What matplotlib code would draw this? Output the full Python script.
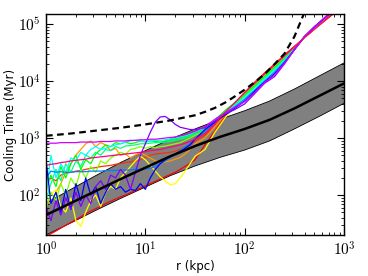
import numpy as np
import matplotlib
matplotlib.use('Agg')
import matplotlib.pyplot as plt
from matplotlib.ticker import FuncFormatter

plt.rcParams['mathtext.fontset'] = 'cm'

# radius grid (kpc) shared by the coloured profiles
r_kpc = [1.00, 1.12, 1.26, 1.41, 1.58, 1.78, 2.00, 2.24, 2.51, 2.82,
         3.16, 3.55, 3.98, 4.47, 5.01, 5.62, 6.31, 7.08, 7.94, 8.91,
         10.0, 11.2, 12.6, 14.1, 15.8, 17.8, 20.0, 22.4, 25.1, 28.2,
         31.6, 39.8, 50.1, 63.1, 79.4, 100, 126, 158, 200, 251,
         316, 398, 501, 631, 794]

# log10 of cooling time (Myr) for each simulated profile
log_t_red = [1.28, 1.32, 1.37, 1.42, 1.47, 1.52, 1.57, 1.62, 1.67, 1.72,
             1.76, 1.80, 1.85, 1.89, 1.93, 1.97, 2.00, 2.04, 2.08, 2.12,
             2.16, 2.20, 2.24, 2.28, 2.32, 2.36, 2.40, 2.45, 2.50, 2.56,
             2.62, 2.88, 3.12, 3.38, 3.60, 3.80, 3.98, 4.14, 4.30, 4.46,
             4.61, 4.76, 4.91, 5.05, 5.19]
log_t_red2 = [2.20, 2.30, 2.25, 2.35, 2.38, 2.40, 2.42, 2.43, 2.45, 2.47,
              2.48, 2.50, 2.51, 2.52, 2.54, 2.55, 2.57, 2.58, 2.60, 2.62,
              2.66, 2.70, 2.72, 2.73, 2.74, 2.75, 2.77, 2.80, 2.83, 2.88,
              2.95, 3.05, 3.22, 3.42, 3.62, 3.80, 3.97, 4.13, 4.29, 4.45,
              4.60, 4.76, 4.91, 5.06, 5.21]
log_t_orange = [1.90, 1.85, 2.05, 2.20, 2.40, 2.55, 2.70, 2.80, 2.90, 2.95,
                2.85, 2.92, 2.88, 2.78, 2.82, 2.70, 2.72, 2.65, 2.70, 2.74,
                2.70, 2.65, 2.60, 2.58, 2.58, 2.60, 2.63, 2.66, 2.72, 2.80,
                2.90, 3.00, 3.20, 3.40, 3.58, 3.76, 3.94, 4.10, 4.26, 4.42,
                4.59, 4.76, 4.92, 5.07, 5.22]
log_t_yellow = [2.20, 2.00, 2.10, 1.80, 1.70, 1.95, 1.55, 1.45, 1.70, 1.90,
                2.00, 1.80, 2.05, 2.15, 2.10, 2.30, 2.40, 2.50, 2.60, 2.68,
                2.62, 2.52, 2.42, 2.32, 2.25, 2.18, 2.20, 2.30, 2.42, 2.55,
                2.68, 2.80, 3.10, 3.35, 3.56, 3.75, 3.92, 4.09, 4.25, 4.41,
                4.59, 4.76, 4.92, 5.08, 5.23]
log_t_lime = [1.75, 2.05, 1.90, 2.20, 2.00, 2.30, 2.15, 2.45, 2.30, 2.50,
              2.40, 2.60, 2.55, 2.65, 2.70, 2.75, 2.72, 2.80, 2.82, 2.85,
              2.82, 2.85, 2.83, 2.85, 2.86, 2.88, 2.90, 2.92, 2.96, 3.00,
              3.05, 3.12, 3.30, 3.47, 3.62, 3.77, 3.93, 4.08, 4.24, 4.40,
              4.58, 4.77, 4.93, 5.09, 5.25]
log_t_green = [2.10, 2.35, 2.15, 2.50, 2.30, 2.55, 2.70, 2.45, 2.62, 2.55,
               2.72, 2.80, 2.88, 2.85, 2.92, 2.90, 2.93, 2.90, 2.92, 2.95,
               2.93, 2.95, 2.94, 2.93, 2.95, 2.96, 2.98, 3.00, 3.02, 3.05,
               3.10, 3.15, 3.32, 3.48, 3.62, 3.76, 3.92, 4.08, 4.24, 4.40,
               4.58, 4.77, 4.94, 5.10, 5.27]
log_t_spring = [1.90, 2.20, 2.45, 2.25, 2.55, 2.40, 2.60, 2.50, 2.70, 2.65,
                2.75, 2.70, 2.80, 2.78, 2.85, 2.82, 2.86, 2.87, 2.88, 2.90,
                2.90, 2.91, 2.92, 2.92, 2.93, 2.94, 2.96, 2.98, 3.00, 3.03,
                3.07, 3.15, 3.30, 3.45, 3.59, 3.73, 3.89, 4.05, 4.21, 4.38,
                4.57, 4.77, 4.94, 5.10, 5.27]
log_t_cyan = [2.00, 2.70, 2.30, 2.55, 2.40, 2.65, 2.60, 2.75, 2.70, 2.80,
              2.85, 2.80, 2.82, 2.85, 2.88, 2.90, 2.93, 2.95, 2.96, 2.95,
              2.94, 2.95, 2.96, 2.96, 2.97, 2.98, 3.00, 3.02, 3.04, 3.07,
              3.11, 3.18, 3.30, 3.44, 3.57, 3.70, 3.86, 4.03, 4.19, 4.36,
              4.56, 4.77, 4.94, 5.10, 5.26]
log_t_azure = [2.30, 2.42, 2.40, 2.41, 2.40, 2.40, 2.41, 2.41, 2.41, 2.42,
               2.42, 2.42, 2.43, 2.43, 2.43, 2.44, 2.44, 2.44, 2.45, 2.45,
               2.46, 2.47, 2.50, 2.55, 2.60, 2.66, 2.72, 2.78, 2.84, 2.90,
               2.98, 3.12, 3.27, 3.42, 3.55, 3.68, 3.84, 4.00, 4.16, 4.34,
               4.55, 4.77, 4.94, 5.10, 5.26]
log_t_blue = [2.62, 1.85, 2.05, 1.70, 2.10, 1.75, 2.20, 1.90, 2.30, 2.00,
              2.15, 1.85, 2.05, 2.20, 2.10, 2.15, 2.05, 2.10, 2.08, 2.20,
              2.10, 2.30, 2.45, 2.55, 2.62, 2.68, 2.72, 2.76, 2.82, 2.88,
              2.98, 3.15, 3.28, 3.40, 3.52, 3.65, 3.82, 3.98, 4.13, 4.32,
              4.55, 4.78, 4.95, 5.10, 5.25]
log_t_violet = [1.80, 1.55, 1.90, 1.65, 1.95, 1.75, 2.05, 1.80, 2.00, 1.85,
                2.15, 2.25, 2.10, 2.35, 2.30, 2.45, 2.35, 2.10, 2.40, 2.70,
                2.90, 3.10, 3.28, 3.37, 3.38, 3.32, 3.24, 3.19, 3.17, 3.15,
                3.15, 3.18, 3.30, 3.42, 3.50, 3.60, 3.78, 3.96, 4.08, 4.30,
                4.55, 4.78, 4.95, 5.10, 5.25]
log_t_magenta = [2.91, 2.91, 2.91, 2.92, 2.92, 2.92, 2.92, 2.93, 2.93, 2.93,
                 2.93, 2.94, 2.94, 2.94, 2.95, 2.95, 2.95, 2.96, 2.96, 2.97,
                 2.97, 2.98, 2.98, 2.99, 3.00, 3.01, 3.02, 3.04, 3.06, 3.09,
                 3.12, 3.20, 3.33, 3.44, 3.54, 3.64, 3.80, 3.97, 4.11, 4.31,
                 4.55, 4.78, 4.95, 5.11, 5.27]
log_t_pink = [2.52, 2.54, 2.55, 2.57, 2.58, 2.60, 2.61, 2.62, 2.63, 2.65,
              2.66, 2.67, 2.68, 2.69, 2.70, 2.71, 2.72, 2.73, 2.74, 2.75,
              2.76, 2.78, 2.79, 2.80, 2.82, 2.84, 2.86, 2.88, 2.91, 2.94,
              2.98, 3.08, 3.25, 3.45, 3.62, 3.80, 3.96, 4.12, 4.28, 4.44,
              4.60, 4.76, 4.91, 5.06, 5.21]

profiles = [log_t_red, log_t_red2, log_t_orange, log_t_yellow, log_t_lime,
            log_t_green, log_t_spring, log_t_cyan, log_t_azure, log_t_blue,
            log_t_violet, log_t_magenta, log_t_pink]
colors = ['#ff0000', '#ff3000', '#ff9900', '#ffff00', '#80ff00',
          '#00ff00', '#00ff80', '#00ffff', '#0080ff', '#0000ff',
          '#8000ff', '#d000ff', '#ff0080']

# mean relation and its scatter
r_fit = [1, 1.78, 3.16, 5.62, 10, 17.8, 31.6, 56.2, 100, 178, 316, 562, 1000]
log_t_fit = [1.65, 1.86, 2.07, 2.28, 2.48, 2.68, 2.86, 3.02, 3.16, 3.32, 3.52, 3.74, 3.96]
log_t_fit_hi = [1.86, 2.10, 2.34, 2.57, 2.78, 2.98, 3.16, 3.33, 3.48, 3.65, 3.86, 4.09, 4.32]
log_t_fit_lo = [1.30, 1.51, 1.73, 1.94, 2.14, 2.34, 2.51, 2.66, 2.79, 2.95, 3.16, 3.38, 3.61]

# dashed reference curve
r_dash = [1, 1.78, 3.16, 5.62, 10, 17.8, 31.6, 39.8, 50.1, 63.1, 79.4,
          100, 126, 158, 200, 251, 316, 398, 447]
log_t_dash = [3.04, 3.08, 3.13, 3.18, 3.24, 3.31, 3.40, 3.46, 3.53, 3.62, 3.73,
              3.85, 3.98, 4.12, 4.30, 4.48, 4.78, 5.20, 5.40]

fig = plt.figure(figsize=(3.68, 2.76), dpi=100)
ax = fig.add_axes([0.125, 0.149, 0.81, 0.80])

ax.fill_between(r_fit, 10**np.array(log_t_fit_lo), 10**np.array(log_t_fit_hi),
                facecolor='#808080', edgecolor='none', zorder=1)
ax.plot(r_fit, 10**np.array(log_t_fit_hi), color='k', lw=0.6, zorder=1)
ax.plot(r_fit, 10**np.array(log_t_fit_lo), color='k', lw=0.6, zorder=1)

for prof, c in zip(profiles, colors):
    ax.plot(r_kpc, 10**np.array(prof), color=c, lw=0.9, zorder=2)

ax.plot(r_fit, 10**np.array(log_t_fit), color='k', lw=1.8, zorder=3)
ax.plot(r_dash, 10**np.array(log_t_dash), color='k', lw=1.6, ls='--',
        dashes=(3, 2), zorder=3)

ax.set_xscale('log')
ax.set_yscale('log')
ax.set_xlim(1, 1000)
ax.set_ylim(20, 1.5e5)

pow10 = FuncFormatter(lambda v, pos: r'$10^{%d}$' % round(np.log10(v)))
ax.xaxis.set_major_formatter(pow10)
ax.yaxis.set_major_formatter(pow10)
ax.tick_params(which='both', direction='in', top=True, right=True, labelsize=11)
ax.tick_params(which='major', length=5)
ax.tick_params(which='minor', length=2.5)
ax.tick_params(axis='x', pad=4)
ax.set_xlabel('r (kpc)', fontsize=8.5, labelpad=1)
ax.set_ylabel('Cooling Time (Myr)', fontsize=8.5, labelpad=1)
for s in ax.spines.values():
    s.set_linewidth(1.0)

fig.savefig('out.png', dpi=100)
